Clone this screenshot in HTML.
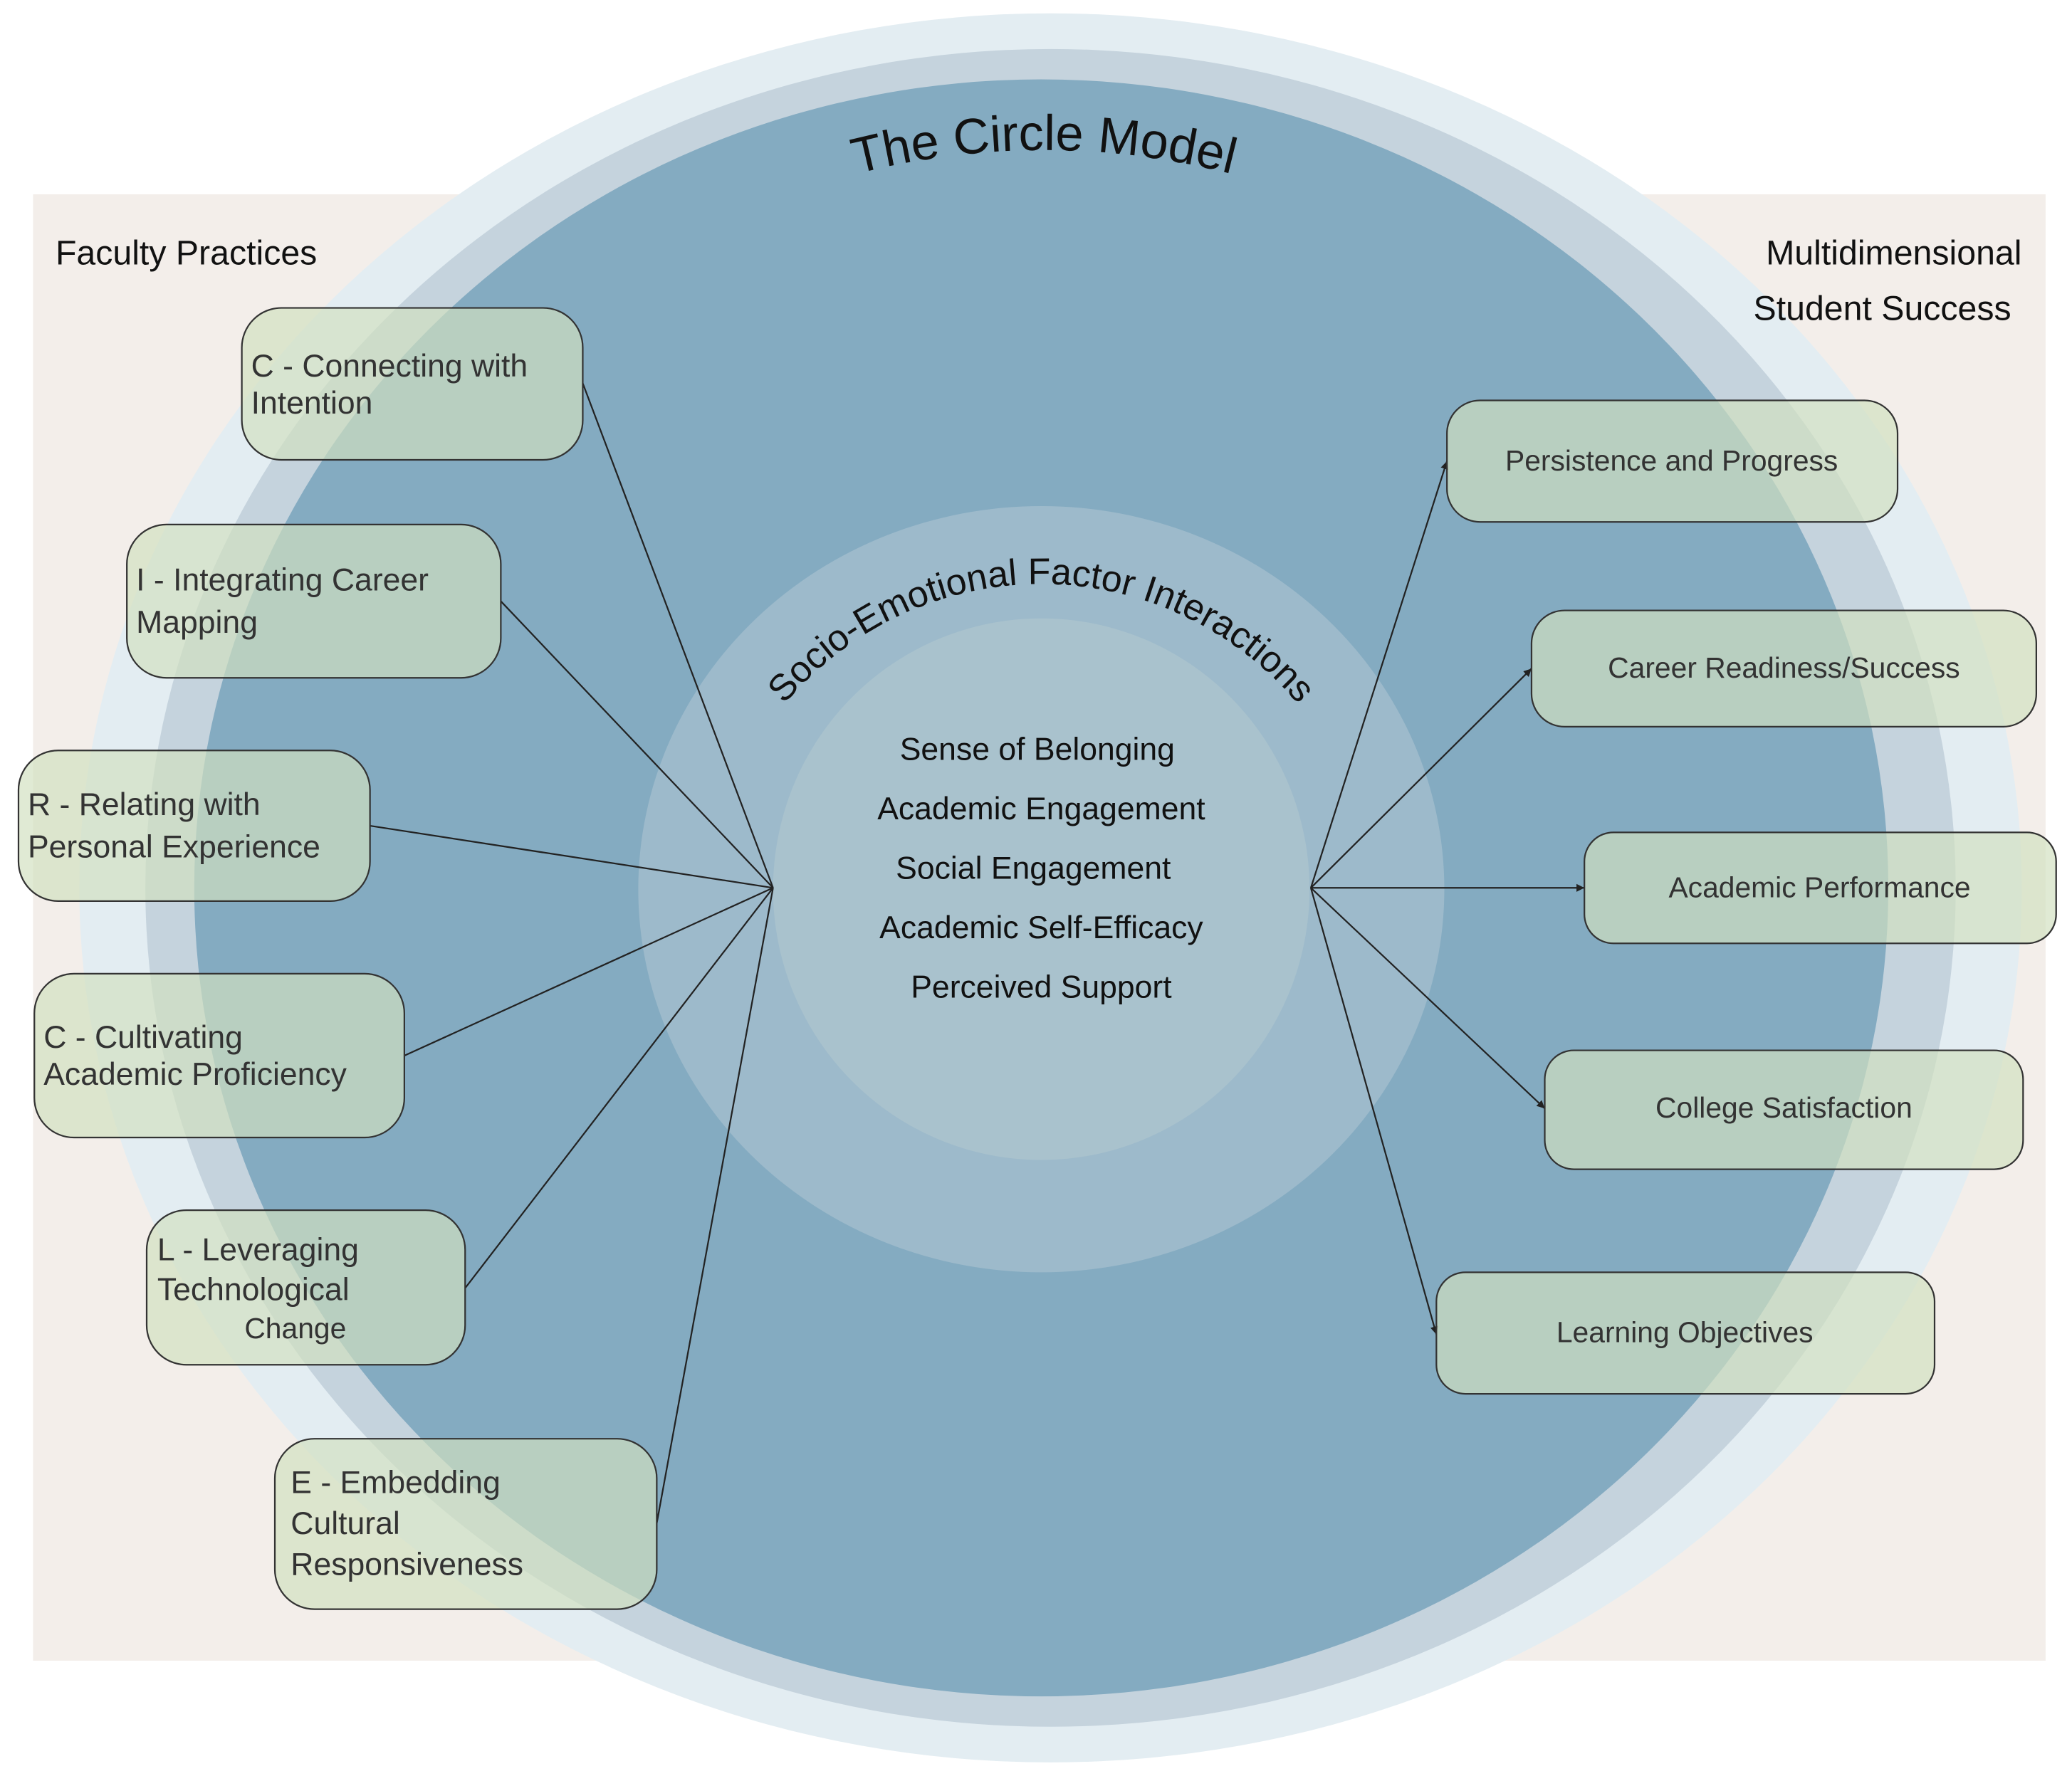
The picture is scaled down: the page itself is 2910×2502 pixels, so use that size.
<!DOCTYPE html>
<html><head><meta charset="utf-8"><style>html,body{margin:0;padding:0;background:#fff}svg{display:block}</style></head>
<body>
<svg width="2910" height="2502" viewBox="0 0 1568 1348" xmlns="http://www.w3.org/2000/svg" font-family="Liberation Sans, Arial, sans-serif">
<defs>
<marker id="ar" markerWidth="8" markerHeight="8" refX="6" refY="3" orient="auto" markerUnits="userSpaceOnUse"><path d="M0,0 L6,3 L0,6 z" fill="#222"/></marker>
<path id="tp" d="M 400 900 A 395 785 0 0 1 1180 900" />
<path id="sp" d="M 533 700 A 255 258 0 0 1 1043 700" />
</defs>
<rect x="0" y="0" width="1568" height="1348" fill="#fff"/>
<rect x="25" y="147" width="1523" height="1110" fill="#f3eeea"/>
<ellipse cx="795" cy="672" rx="735" ry="662" fill="#e3edf2"/>
<ellipse cx="795" cy="672" rx="685" ry="635" fill="#c5d3dd"/>
<ellipse cx="788" cy="672" rx="641" ry="612" fill="#84abc1"/>
<ellipse cx="788" cy="673" rx="305" ry="290" fill="#9dbacb"/>
<ellipse cx="788" cy="673" rx="203" ry="205" fill="#a9c2cd"/>

<path d="M 635 135 Q 790 92 945 135" fill="none" stroke="none" id="tp2"/>
<text font-size="38" fill="#111" text-anchor="middle"><textPath href="#tp2" startOffset="50%">The Circle Model</textPath></text>
<text font-size="28" fill="#111" text-anchor="middle"><textPath href="#sp" startOffset="50%">Socio-Emotional Factor Interactions</textPath></text>

<g font-size="24" fill="#111" text-anchor="middle">
<text x="785" y="575">Sense of Belonging</text>
<text x="788" y="620">Academic Engagement</text>
<text x="782" y="665">Social Engagement</text>
<text x="788" y="710">Academic Self-Efficacy</text>
<text x="788" y="755">Perceived Support</text>
</g>

<text x="42" y="200" font-size="26" fill="#111">Faculty Practices</text>
<text x="1530" y="200" font-size="26" fill="#111" text-anchor="end">Multidimensional</text>
<text x="1522" y="242" font-size="26" fill="#111" text-anchor="end">Student Success</text>

<g stroke="#222" stroke-width="1.2" fill="none">
<line x1="441" y1="290" x2="585" y2="672"/>
<line x1="379" y1="455" x2="585" y2="672"/>
<line x1="280" y1="625" x2="585" y2="672"/>
<line x1="306" y1="799" x2="585" y2="672"/>
<line x1="352" y1="975" x2="585" y2="672"/>
<line x1="497" y1="1153" x2="585" y2="672"/>
<line x1="992" y1="672" x2="1095" y2="349" marker-end="url(#ar)"/>
<line x1="992" y1="672" x2="1159" y2="506" marker-end="url(#ar)"/>
<line x1="992" y1="672" x2="1199" y2="672" marker-end="url(#ar)"/>
<line x1="992" y1="672" x2="1169" y2="839" marker-end="url(#ar)"/>
<line x1="992" y1="672" x2="1087" y2="1010" marker-end="url(#ar)"/>
</g>

<g fill="rgb(210,224,192)" fill-opacity="0.68" stroke="#333" stroke-width="1.2">
<rect x="183" y="233" width="258" height="115" rx="30"/>
<rect x="96" y="397" width="283" height="116" rx="30"/>
<rect x="14" y="568" width="266" height="114" rx="30"/>
<rect x="26" y="737" width="280" height="124" rx="30"/>
<rect x="111" y="916" width="241" height="117" rx="30"/>
<rect x="208" y="1089" width="289" height="129" rx="30"/>
<rect x="1095" y="303" width="341" height="92" rx="25"/>
<rect x="1159" y="462" width="382" height="88" rx="25"/>
<rect x="1199" y="630" width="357" height="84" rx="22"/>
<rect x="1169" y="795" width="362" height="90" rx="22"/>
<rect x="1087" y="963" width="377" height="92" rx="22"/>
</g>

<g font-size="24" fill="#333">
<text x="190" y="285">C - Connecting with</text>
<text x="190" y="313">Intention</text>
<text x="103" y="447">I - Integrating Career</text>
<text x="103" y="479">Mapping</text>
<text x="21" y="617">R - Relating with</text>
<text x="21" y="649">Personal Experience</text>
<text x="33" y="793">C - Cultivating</text>
<text x="33" y="821">Academic Proficiency</text>
<text x="119" y="954">L - Leveraging</text>
<text x="119" y="984">Technological</text>
<text x="185" y="1013" font-size="22">Change</text>
<text x="220" y="1130">E - Embedding</text>
<text x="220" y="1161">Cultural</text>
<text x="220" y="1192">Responsiveness</text>
</g>
<g font-size="22" fill="#333" text-anchor="middle">
<text x="1265" y="356">Persistence and Progress</text>
<text x="1350" y="513">Career Readiness/Success</text>
<text x="1377" y="679">Academic Performance</text>
<text x="1350" y="846">College Satisfaction</text>
<text x="1275" y="1016">Learning Objectives</text>
</g>
</svg>
</body></html>
